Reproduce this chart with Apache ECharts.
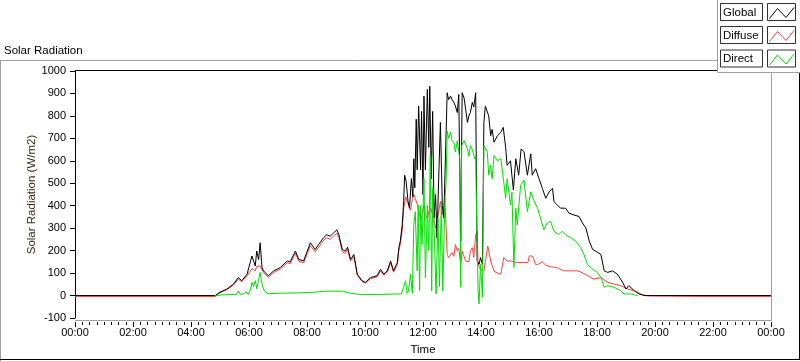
<!DOCTYPE html>
<html><head><meta charset="utf-8">
<script src="https://cdn.jsdelivr.net/npm/echarts@6/dist/echarts.min.js"></script>
<style>html,body{margin:0;padding:0;background:#fff}#c{width:800px;height:361px}</style>
</head><body><div id="c"></div>
<script>
// time in minutes since 00:00, value in W/m2
const xTickLabels = ['00:00','02:00','04:00','06:00','08:00','10:00','12:00','14:00','16:00','18:00','20:00','22:00','00:00'];
const seriesNames = ['Global','Diffuse','Direct'];
const seriesColors = ['#000000','#ff4040','#00e000'];

const globalData = [[0,0],[290,0],[300,15],[314,29],[328,51],[338,80],[345,66],[356,95],[366,176],[373,132],[376,198],[380,160],[383,235],[387,125],[390,110],[400,88],[411,110],[425,125],[439,154],[445,150],[456,198],[463,161],[473,154],[487,235],[497,205],[504,227],[514,257],[521,271],[528,264],[535,279],[542,293],[546,270],[553,205],[559,198],[564,215],[570,161],[577,183],[584,95],[594,66],[601,59],[611,80],[625,88],[632,117],[639,95],[646,110],[653,154],[659,110],[667,147],[670,213],[673,242],[677,315],[680,418],[682,536],[685,510],[689,420],[692,389],[696,521],[699,440],[701,609],[703,480],[706,785],[708,560],[711,844],[715,560],[717,820],[720,450],[722,888],[725,560],[729,918],[732,660],[734,932],[737,520],[740,820],[743,345],[746,450],[749,257],[753,560],[756,771],[760,400],[763,345],[767,660],[770,903],[773,873],[777,888],[780,873],[784,860],[787,844],[791,815],[794,895],[798,242],[801,903],[805,880],[808,873],[812,771],[815,800],[818,815],[822,860],[825,840],[829,903],[832,154],[836,139],[839,169],[843,139],[846,771],[849,844],[853,851],[856,800],[860,712],[863,740],[867,683],[874,712],[881,727],[886,749],[891,660],[894,580],[901,600],[907,470],[912,609],[918,536],[923,653],[929,640],[936,536],[943,631],[946,536],[953,565],[960,521],[967,477],[974,433],[981,462],[988,477],[991,418],[998,403],[1005,389],[1015,389],[1022,367],[1032,359],[1043,352],[1050,323],[1057,301],[1064,242],[1071,205],[1077,198],[1088,183],[1095,110],[1102,103],[1112,110],[1122,95],[1133,59],[1140,29],[1146,44],[1157,22],[1167,7],[1177,0],[1440,0]];

const diffuseData = [[0,-4],[290,-4],[300,13],[314,26],[328,47],[338,73],[345,62],[356,88],[366,120],[373,110],[376,130],[380,125],[383,132],[387,115],[390,103],[400,82],[411,103],[425,118],[439,146],[445,142],[456,188],[463,152],[473,146],[487,222],[497,195],[504,215],[514,245],[521,258],[528,250],[535,265],[542,278],[546,258],[553,195],[559,188],[564,205],[570,153],[577,173],[584,90],[594,62],[601,55],[611,75],[625,83],[632,110],[639,90],[646,104],[653,145],[659,104],[667,139],[670,200],[673,228],[677,290],[680,389],[684,440],[687,420],[691,403],[694,380],[698,430],[701,450],[704,433],[709,400],[712,374],[715,330],[718,360],[722,403],[725,360],[729,345],[732,374],[736,390],[740,360],[742,345],[746,300],[749,330],[753,380],[756,420],[760,360],[763,390],[765,430],[768,300],[770,183],[773,169],[777,169],[780,191],[784,175],[787,227],[791,200],[794,210],[798,139],[801,198],[805,190],[808,154],[812,160],[815,150],[818,198],[822,213],[825,170],[829,271],[832,286],[834,139],[839,117],[843,125],[846,110],[849,150],[854,220],[856,227],[860,154],[867,108],[874,100],[881,95],[887,169],[894,154],[901,154],[908,150],[916,147],[926,147],[937,147],[940,177],[947,175],[953,138],[959,140],[967,150],[974,135],[984,128],[997,125],[1011,110],[1026,110],[1040,110],[1046,105],[1061,89],[1073,73],[1088,80],[1102,59],[1115,51],[1129,44],[1144,29],[1156,22],[1171,7],[1185,-2],[1295,-4],[1440,-4]];

const directData = [[290,0],[300,2],[314,4],[334,5],[338,20],[342,5],[350,8],[354,18],[358,5],[363,25],[366,59],[369,40],[373,66],[376,30],[379,60],[383,103],[387,50],[390,29],[394,15],[400,8],[414,10],[435,11],[466,12],[497,15],[514,19],[539,20],[555,19],[570,10],[590,5],[632,5],[663,7],[675,7],[680,37],[684,66],[687,10],[690,20],[694,95],[698,10],[701,315],[704,374],[708,110],[710,403],[713,22],[715,400],[718,227],[722,521],[725,80],[729,403],[732,200],[735,624],[738,20],[740,480],[744,227],[747,7],[751,345],[754,40],[758,418],[761,20],[765,400],[768,521],[770,734],[773,700],[777,727],[780,690],[784,680],[787,639],[791,690],[796,609],[798,37],[800,668],[805,690],[812,653],[815,620],[818,668],[822,650],[827,609],[829,620],[831,345],[834,22],[836,-37],[839,139],[843,-7],[846,668],[849,668],[853,640],[856,536],[860,580],[863,520],[867,624],[874,600],[881,610],[884,617],[887,507],[891,433],[894,520],[901,403],[904,460],[908,125],[912,389],[915,315],[922,491],[929,514],[936,374],[943,462],[950,420],[957,389],[963,345],[970,293],[977,323],[984,330],[991,286],[1001,271],[1008,286],[1015,271],[1026,257],[1036,242],[1046,213],[1053,183],[1060,139],[1071,117],[1081,103],[1088,80],[1095,37],[1102,44],[1115,37],[1129,22],[1136,7],[1150,7],[1164,0]];

const FONT = 'Liberation Sans, Arial, sans-serif';
const chart = echarts.init(document.getElementById('c'), null, {renderer:'canvas'});

const legendEls = [];
legendEls.push({type:'rect', shape:{x:717.5,y:-1,width:90,height:73.5}, style:{fill:'#fff',stroke:'#a0a0a0',lineWidth:1}, z:100});
const rowTops = [3.5, 26.5, 50];
seriesNames.forEach((n,i)=>{
  const t = rowTops[i];
  legendEls.push({type:'rect', shape:{x:720.5,y:t,width:42,height:17}, style:{fill:'#fff',stroke:'#333',lineWidth:1}, z:101});
  legendEls.push({type:'text', x:723, y:t+9, style:{text:n, font:'11.5px '+FONT, fill:'#000', verticalAlign:'middle'}, z:102});
  legendEls.push({type:'rect', shape:{x:767.5,y:t,width:28,height:17}, style:{fill:'#fff',stroke:'#333',lineWidth:1}, z:101});
  legendEls.push({type:'polyline', shape:{points:[[769.5,t+15],[777.5,t+5],[786,t+14],[794,t+4]]}, style:{stroke:seriesColors[i],lineWidth:1,fill:null}, z:102});
});

const frameEls = [
  {type:'line', shape:{x1:0,y1:60.5,x2:717,y2:60.5}, style:{stroke:'#a0a0a0',lineWidth:1}, z:50},
  {type:'line', shape:{x1:0.5,y1:60,x2:0.5,y2:361}, style:{stroke:'#a0a0a0',lineWidth:1}, z:50},
  {type:'line', shape:{x1:0,y1:359.5,x2:800,y2:359.5}, style:{stroke:'#000',lineWidth:1}, z:50},
  {type:'line', shape:{x1:799.5,y1:72,x2:799.5,y2:360}, style:{stroke:'#000',lineWidth:1}, z:50},
  {type:'line', shape:{x1:75,y1:70.5,x2:771,y2:70.5}, style:{stroke:'#000',lineWidth:1}, z:50},
  {type:'line', shape:{x1:771.5,y1:70,x2:771.5,y2:321}, style:{stroke:'#a0a0a0',lineWidth:1}, z:50},
  {type:'line', shape:{x1:75,y1:320.5,x2:772,y2:320.5}, style:{stroke:'#a0a0a0',lineWidth:1}, z:50}
];

const mk = (name, data, color, z) => ({
  name, type:'line', data, showSymbol:false, symbol:'none', z,
  lineStyle:{color, width:1}, itemStyle:{color}, animation:false, connectNulls:false
});

chart.setOption({
  animation:false,
  backgroundColor:'#fff',
  textStyle:{fontFamily:FONT},
  title:{text:'Solar Radiation', left:4, top:45, padding:0,
    textStyle:{fontSize:11.5, fontWeight:'normal', color:'#000', fontFamily:FONT}},
  grid:{left:75, right:29, top:71, bottom:40, containLabel:false},
  xAxis:{type:'value', min:0, max:1440, interval:120, offset:4,
    axisLine:{show:false, onZero:false},
    axisTick:{show:true, length:5, lineStyle:{color:'#000'}},
    minorTick:{show:true, splitNumber:8, length:3, lineStyle:{color:'#000'}},
    splitLine:{show:false}, minorSplitLine:{show:false},
    axisLabel:{margin:5, fontSize:11, color:'#000', fontFamily:FONT,
      formatter:v=>xTickLabels[Math.round(v/120)]},
    name:'Time', nameLocation:'middle', nameGap:22, nameMoveOverlap:false,
    nameTextStyle:{fontSize:11.5, color:'#000', fontFamily:FONT}},
  yAxis:{type:'value', min:-100, max:1000, interval:100,
    axisLine:{show:true, onZero:false, lineStyle:{color:'#000'}},
    axisTick:{show:true, length:5, lineStyle:{color:'#000'}},
    splitLine:{show:false},
    axisLabel:{margin:9, fontSize:11, color:'#000', fontFamily:FONT, formatter:v=>String(v)},
    name:'Solar Radiation (W/m2)', nameLocation:'middle', nameGap:37, nameMoveOverlap:false,
    nameTextStyle:{fontSize:11.5, color:'#3a2a1a', fontFamily:FONT}},
  series:[
    mk('Diffuse', diffuseData, seriesColors[1], 2),
    mk('Global', globalData, seriesColors[0], 3),
    mk('Direct', directData, seriesColors[2], 4)
  ],
  graphic:{elements: frameEls.concat(legendEls)}
});
</script></body></html>
